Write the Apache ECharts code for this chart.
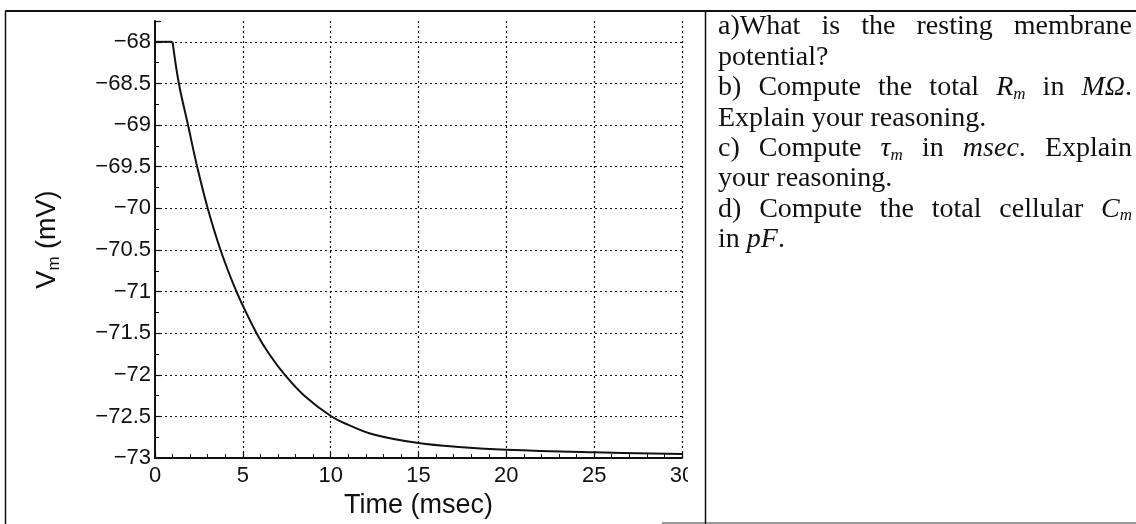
<!DOCTYPE html>
<html><head><meta charset="utf-8">
<script src="https://cdn.jsdelivr.net/npm/echarts@6/dist/echarts.min.js"></script>
<style>html,body{margin:0;padding:0;background:#fff}#c{width:1136px;height:524px}</style>
</head><body><div id="c"></div>
<script>
// ---- data ----
const timeMs = [0, 1, 1.36, 1.88, 2.4, 3.0, 3.73, 4.64, 5.78, 6.5, 7.39, 8.5, 10.05, 11, 12.5, 15, 17.5, 20, 25, 30];
const vmMv   = [-68, -68, -68.5, -69, -69.5, -70, -70.5, -71, -71.5, -71.75, -72, -72.25, -72.5, -72.6, -72.72, -72.82, -72.87, -72.9, -72.93, -72.95];
const stepEndIndex = 1; // holding level ends at this sample, decay starts here
const xTitle = 'Time (msec)';
const yTitleMain = 'V', yTitleSub = 'm', yTitleUnit = ' (mV)';
const questionLines = [
  "a)What is the resting membrane",
  "potential?",
  "b) Compute the total *R*_m_ in *MΩ*.",
  "Explain your reasoning.",
  "c) Compute *τ*_m_ in *msec*. Explain",
  "your reasoning.",
  "d) Compute the total cellular *C*_m_",
  "in *pF*."
];
const justifiedRows = [true, false, true, false, true, false, true, false];

// ---- chart ----
const chart = echarts.init(document.getElementById('c'), null, {renderer: 'canvas'});
const SANS = '"Liberation Sans", Arial, sans-serif';
const SERIF = '"Liberation Serif", "Times New Roman", serif';
const FS = 28, SUB = 17;
const fmt = v => (v < 0 ? '\u2212' : '') + String(Math.abs(Math.round(v * 100) / 100));

// text panel
const ctx = document.createElement('canvas').getContext('2d');
function parseWord(w) {
  const runs = [];
  const re = /(\*[^*]+\*|_[^_]+_|[^*_]+)/g; let m;
  while ((m = re.exec(w))) {
    const t = m[0];
    if (t[0] === '*') runs.push({t: t.slice(1, -1), k: 'i'});
    else if (t[0] === '_') runs.push({t: t.slice(1, -1), k: 's'});
    else runs.push({t, k: 'n'});
  }
  return runs;
}
function runFont(r) {
  return (r.k === 'n' ? '' : 'italic ') + (r.k === 's' ? SUB : FS) + 'px ' + SERIF;
}
function wordWidth(runs) {
  return runs.reduce((a, r) => { ctx.font = runFont(r); return a + ctx.measureText(r.t).width; }, 0);
}
const rich = {
  n: {fontSize: FS, fontFamily: SERIF, lineHeight: 30, fill: '#111'},
  i: {fontSize: FS, fontFamily: SERIF, fontStyle: 'italic', lineHeight: 30, fill: '#111'},
  s: {fontSize: SUB, fontFamily: SERIF, fontStyle: 'italic', lineHeight: 12, verticalAlign: 'bottom', fill: '#111'}
};
const TX0 = 718, TX1 = 1132, TY0 = 27, TLH = 30.4;
const textEls = [];
questionLines.forEach((line, li) => {
  const words = line.split(' ').map(parseWord);
  const widths = words.map(wordWidth);
  const total = widths.reduce((a, b) => a + b, 0);
  ctx.font = FS + 'px ' + SERIF;
  const sp = ctx.measureText(' ').width;
  const gap = (justifiedRows[li] && words.length > 1) ? (TX1 - TX0 - total) / (words.length - 1) : sp;
  let x = TX0;
  words.forEach((runs, wi) => {
    textEls.push({
      type: 'text', x: x, y: TY0 + li * TLH, z: 50,
      style: {
        text: runs.map(r => '{' + r.k + '|' + r.t + '}').join(''),
        rich: rich, verticalAlign: 'middle', align: 'left', fill: '#111'
      }
    });
    x += widths[wi] + gap;
  });
});

const frame = [
  {type: 'line', z: 60, shape: {x1: 5, y1: 11, x2: 1136, y2: 11}, style: {stroke: '#111', lineWidth: 2}},
  {type: 'line', z: 60, shape: {x1: 5.5, y1: 11, x2: 5.5, y2: 524}, style: {stroke: '#111', lineWidth: 1.5}},
  {type: 'line', z: 60, shape: {x1: 705.5, y1: 11, x2: 705.5, y2: 524}, style: {stroke: '#111', lineWidth: 1.5}},
  {type: 'line', z: 60, shape: {x1: 662, y1: 523, x2: 1136, y2: 523}, style: {stroke: '#333', lineWidth: 1}},
  {type: 'rect', z: 55, shape: {x: 688, y: 465, width: 16, height: 30}, style: {fill: '#fff'}}
];

const gridLine = {show: true, lineStyle: {color: '#111', width: 1.2, type: [2, 3]}};
const pts = timeMs.map((t, i) => [t, vmMv[i]]);

chart.setOption({
  animation: false,
  backgroundColor: '#fff',
  grid: {left: 155, right: 454, top: 21, bottom: 63, containLabel: false},
  xAxis: {
    type: 'value', min: 0, max: 30, interval: 5,
    name: xTitle, nameLocation: 'middle', nameGap: 30,
    nameTextStyle: {fontSize: 27, fontFamily: SANS, color: '#111'},
    axisLine: {show: true, onZero: false, lineStyle: {color: '#111', width: 2}},
    axisTick: {show: true, inside: true, length: 6, lineStyle: {color: '#111', width: 1.2}},
    minorTick: {show: true, splitNumber: 5, length: 4, lineStyle: {color: '#111', width: 1}},
    axisLabel: {fontSize: 22, fontFamily: SANS, color: '#111', margin: 7, formatter: fmt},
    splitLine: Object.assign({showMinLine: false, showMaxLine: true}, gridLine)
  },
  yAxis: {
    type: 'value', min: -73, max: -67.75, interval: 0.5,
    name: '{v|' + yTitleMain + '}{s|' + yTitleSub + '}{v|' + yTitleUnit + '}',
    nameLocation: 'middle', nameGap: 92, nameRotate: 90,
    nameTextStyle: {
      color: '#111',
      rich: {
        v: {fontSize: 27, fontFamily: SANS, color: '#111', lineHeight: 30},
        s: {fontSize: 17, fontFamily: SANS, color: '#111', lineHeight: 12, verticalAlign: 'bottom'}
      }
    },
    axisLine: {show: true, onZero: false, lineStyle: {color: '#111', width: 2}},
    axisTick: {show: true, inside: true, length: 6, lineStyle: {color: '#111', width: 1.2}},
    minorTick: {show: true, splitNumber: 2, length: 4, lineStyle: {color: '#111', width: 1}},
    axisLabel: {
      fontSize: 22, fontFamily: SANS, color: '#111', margin: 4, showMaxLabel: false,
      formatter: v => (Math.abs(v * 2 - Math.round(v * 2)) < 1e-6 ? fmt(v) : '')
    },
    splitLine: Object.assign({showMinLine: false, showMaxLine: false}, gridLine)
  },
  series: [{
    type: 'line',
    data: pts.slice(0, stepEndIndex + 1),
    showSymbol: false, smooth: false,
    lineStyle: {color: '#111', width: 2}, z: 10
  }, {
    type: 'line',
    data: pts.slice(stepEndIndex),
    showSymbol: false, smooth: 0.4,
    lineStyle: {color: '#111', width: 2}, z: 10
  }],
  graphic: frame.concat(textEls)
});
</script></body></html>
